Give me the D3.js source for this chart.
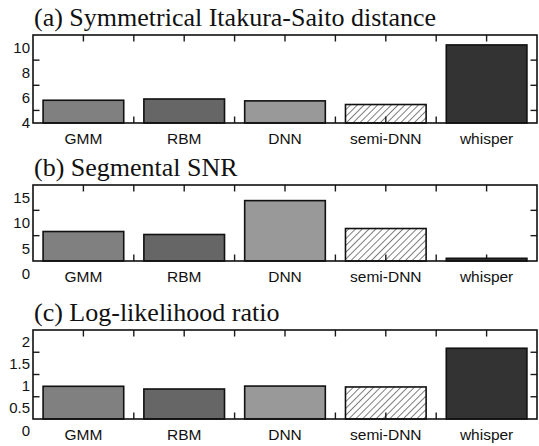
<!DOCTYPE html>
<html>
<head>
<meta charset="utf-8">
<script src="https://cdn.jsdelivr.net/npm/d3@7/dist/d3.min.js"></script>
<style>
  html, body { margin: 0; padding: 0; background: #fff; }
  svg { display: block; }
</style>
</head>
<body>
<svg id="chart" width="539" height="446"></svg>
<script>
// ---- data ----
const categories = ["GMM", "RBM", "DNN", "semi-DNN", "whisper"];
const isDistance = [5.81, 5.91, 5.76, 5.47, 10.21];
const segSNR = [8.32, 7.73, 14.42, 8.91, 3.03];
const llr = [0.985, 0.924, 0.99, 0.97, 1.84];

const isLabels = [4, 6, 8, 10];
const isTicks = [5, 7, 9];
const snrLabels = [0, 5, 10, 15];
const snrTicks = [7.5, 12.5];
const llrLabels = [0, 0.5, 1, 1.5, 2];
const llrTicks = [0.75, 1.25, 1.75];
const xTicks = [1, 1.5, 2, 2.5, 3, 3.5, 4, 4.5, 5];

const titles = ["(a) Symmetrical Itakura-Saito distance", "(b) Segmental SNR", "(c) Log-likelihood ratio"];

// ---- styling ----
const fills = ["#808080", "#666666", "#999999", "url(#hatch)", "#333333"];
const sans = "'Liberation Sans', Arial, Helvetica, sans-serif";
const serif = "'Liberation Serif', 'Times New Roman', serif";

const svg = d3.select("#chart");
const defs = svg.append("defs");
const pat = defs.append("pattern")
  .attr("id", "hatch")
  .attr("patternUnits", "userSpaceOnUse")
  .attr("width", 4.8).attr("height", 4.8)
  .attr("patternTransform", "rotate(45)");
pat.append("line")
  .attr("x1", 0).attr("y1", 0).attr("x2", 0).attr("y2", 4.8)
  .attr("stroke", "#000").attr("stroke-width", 1);

const left = 33, right = 537;
const x = d3.scaleLinear().domain([0.5, 5.5]).range([left, right]);

const panels = [
  { title: titles[0], values: isDistance, domain: [4, 11], top: 35, bottom: 123, labels: isLabels, ticks: isTicks },
  { title: titles[1], values: segSNR, domain: [2.5, 17.5], top: 185, bottom: 261, labels: snrLabels, ticks: snrTicks },
  { title: titles[2], values: llr, domain: [0.25, 2.25], top: 330, bottom: 419, labels: llrLabels, ticks: llrTicks }
];

const tickLen = 6.5;
const tickStroke = "#1a1a1a";
const tickW = 1.4;

panels.forEach(p => {
  const g = svg.append("g");
  const y = d3.scaleLinear().domain(p.domain).range([p.bottom, p.top]);

  // title
  g.append("text")
    .attr("x", 34).attr("y", p.top - 9)
    .attr("font-family", serif)
    .attr("font-size", 26)
    .attr("fill", "#111")
    .text(p.title);

  // inward ticks (beneath the bars)
  const tg = g.append("g").attr("stroke", tickStroke).attr("stroke-width", tickW);
  tg.selectAll("line.b").data(xTicks).join("line").attr("class", "b")
    .attr("x1", d => x(d)).attr("x2", d => x(d))
    .attr("y1", p.bottom).attr("y2", p.bottom - tickLen);
  tg.selectAll("line.t").data(xTicks).join("line").attr("class", "t")
    .attr("x1", d => x(d)).attr("x2", d => x(d))
    .attr("y1", p.top).attr("y2", p.top + tickLen);
  tg.selectAll("line.l").data(p.ticks).join("line").attr("class", "l")
    .attr("x1", left).attr("x2", left + tickLen)
    .attr("y1", d => y(d)).attr("y2", d => y(d));
  tg.selectAll("line.r").data(p.ticks).join("line").attr("class", "r")
    .attr("x1", right).attr("x2", right - tickLen)
    .attr("y1", d => y(d)).attr("y2", d => y(d));

  // bars
  g.append("g").selectAll("rect")
    .data(p.values)
    .join("rect")
    .attr("x", (d, i) => x(i + 1 - 0.4))
    .attr("width", (d, i) => x(i + 1 + 0.4) - x(i + 1 - 0.4))
    .attr("y", d => y(d))
    .attr("height", d => y(p.domain[0]) - y(d))
    .attr("fill", (d, i) => fills[i])
    .attr("stroke", "#111")
    .attr("stroke-width", 1.6);

  // box
  g.append("rect")
    .attr("x", left).attr("y", p.top)
    .attr("width", right - left).attr("height", p.bottom - p.top)
    .attr("fill", "none").attr("stroke", "#111").attr("stroke-width", 1.6);

  // y labels
  g.append("g").selectAll("text")
    .data(p.labels)
    .join("text")
    .attr("x", left - 3)
    .attr("y", d => y(d))
    .attr("dy", "0.36em")
    .attr("text-anchor", "end")
    .attr("font-family", sans)
    .attr("font-size", 15)
    .attr("fill", "#111")
    .text(d => d3.format("~g")(d));

  // category labels
  g.append("g").selectAll("text")
    .data(categories)
    .join("text")
    .attr("x", (d, i) => x(i + 1))
    .attr("y", p.bottom + 21)
    .attr("text-anchor", "middle")
    .attr("font-family", sans)
    .attr("font-size", 15.5)
    .attr("fill", "#111")
    .text(d => d);
});
</script>
</body>
</html>
